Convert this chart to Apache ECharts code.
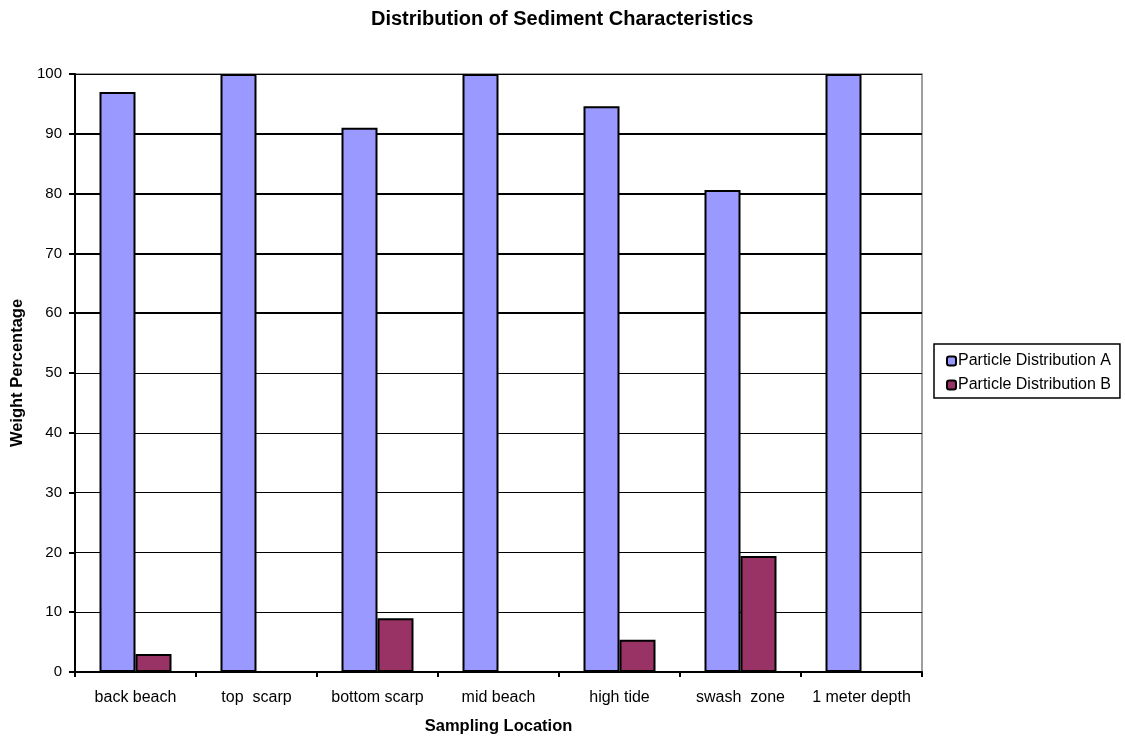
<!DOCTYPE html>
<html>
<head>
<meta charset="utf-8">
<script src="https://cdn.jsdelivr.net/npm/echarts@6/dist/echarts.min.js"></script>
<style>
html,body{margin:0;padding:0;background:#fff;}
#chart{width:1125px;height:736px;}
</style>
</head>
<body>
<div id="chart"></div>
<script>
var categories = ['back beach', 'top  scarp', 'bottom scarp', 'mid beach', 'high tide', 'swash  zone', '1 meter depth'];
var seriesNames = ['Particle Distribution A', 'Particle Distribution B'];
var valuesA = [97, 100, 91, 100, 94.6, 80.6, 100];
var valuesB = [3, 0, 9, 0, 5.4, 19.4, 0];
var thickGridValues = [60, 70, 80, 90];

var FONT = '"Liberation Sans", Arial, sans-serif';
var chart = echarts.init(document.getElementById('chart'));
var barStyle = function (color) {
  return { color: color, borderColor: '#000', borderWidth: 2 };
};
chart.setOption({
  animation: false,
  backgroundColor: '#fff',
  title: {
    text: 'Distribution of Sediment Characteristics',
    left: 366,
    top: 4,
    textStyle: { fontFamily: FONT, fontSize: 20, fontWeight: 'bold', color: '#000' }
  },
  legend: {
    orient: 'vertical',
    left: 934,
    top: 344,
    itemWidth: 9,
    itemHeight: 9,
    itemGap: 8,
    padding: [9, 9, 5, 12],
    borderColor: '#000',
    borderWidth: 1.5,
    textStyle: { fontFamily: FONT, fontSize: 16, color: '#000', padding: [0, 0, 0, -3] },
    data: seriesNames
  },
  grid: { left: 75, right: 203, top: 74, bottom: 64, outerBoundsMode: 'none', containLabel: false, show: true, borderColor: '#808080', borderWidth: 1.5 },
  xAxis: {
    type: 'category',
    data: categories,
    name: 'Sampling Location',
    nameLocation: 'middle',
    nameGap: 46,
    nameTextStyle: { fontFamily: FONT, fontSize: 16.5, fontWeight: 'bold', color: '#000' },
    axisLine: { lineStyle: { color: '#000', width: 2 } },
    axisTick: { show: true, alignWithLabel: false, length: 5, lineStyle: { color: '#000', width: 2 } },
    axisLabel: { fontFamily: FONT, fontSize: 16, color: '#000', margin: 18, interval: 0, hideOverlap: false }
  },
  yAxis: {
    type: 'value',
    min: 0,
    max: 100,
    interval: 10,
    name: 'Weight Percentage',
    nameLocation: 'middle',
    nameGap: 46,
    nameTextStyle: { fontFamily: FONT, fontSize: 16.5, fontWeight: 'bold', color: '#000' },
    axisLine: { show: true, lineStyle: { color: '#000', width: 2 } },
    axisTick: { show: true, length: 6, lineStyle: { color: '#000', width: 2 } },
    axisLabel: { fontFamily: FONT, fontSize: 15, color: '#000', margin: 13 },
    splitLine: { show: true, lineStyle: { color: '#000', width: 1 } }
  },
  series: [
    {
      name: seriesNames[0],
      type: 'bar',
      data: valuesA,
      barWidth: 36,
      barGap: '0%',
      itemStyle: barStyle('#9999FF'),
      z: 3,
      markLine: {
        silent: true,
        symbol: 'none',
        label: { show: false },
        lineStyle: { color: '#000', width: 2, type: 'solid' },
        z: 1,
        data: thickGridValues.map(function (v) { return { yAxis: v }; })
      }
    },
    {
      name: seriesNames[1],
      type: 'bar',
      data: valuesB,
      barWidth: 36,
      barGap: '0%',
      itemStyle: barStyle('#993366'),
      z: 3
    }
  ]
});
</script>
</body>
</html>
